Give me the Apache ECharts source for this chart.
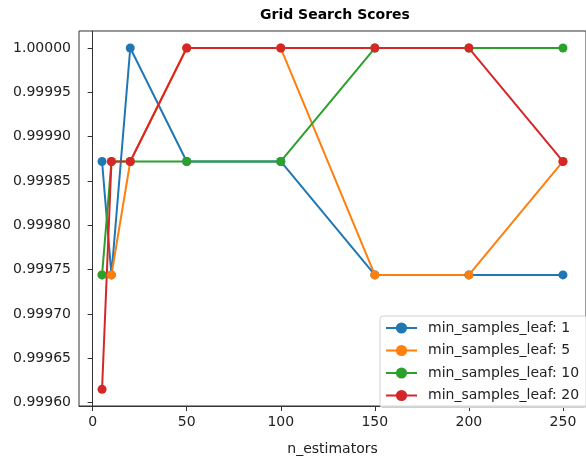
<!DOCTYPE html>
<html>
<head>
<meta charset="utf-8">
<script src="https://cdn.jsdelivr.net/npm/echarts@6/dist/echarts.min.js"></script>
<style>
  html, body { margin: 0; padding: 0; background: #fff; }
  #chart { width: 586px; height: 461px; }
</style>
</head>
<body>
<div id="chart"></div>
<script>
// n_estimators tried in the grid search
const nEstimators = [5, 10, 20, 50, 100, 150, 200, 250]

// mean scores per min_samples_leaf
const leaf1 = [0.999872, 0.999744, 1.0, 0.999872, 0.999872, 0.999744, 0.999744, 0.999744]
const leaf5 = [0.999744, 0.999744, 0.999872, 1.0, 1.0, 0.999744, 0.999744, 0.999872]
const leaf10 = [0.999744, 0.999872, 0.999872, 0.999872, 0.999872, 1.0, 1.0, 1.0]
const leaf20 = [0.999615, 0.999872, 0.999872, 1.0, 1.0, 1.0, 1.0, 0.999872]

const xTicks = [0, 50, 100, 150, 200, 250]
const yTicks = [0.9996, 0.99965, 0.9997, 0.99975, 0.9998, 0.99985, 0.9999, 0.99995, 1.0]

const colors = ['#1f77b4', '#ff7f0e', '#2ca02c', '#d62728']
const font = 'DejaVu Sans'

const makeSeries = (name, values, color) => ({
  name: name,
  type: 'line',
  data: nEstimators.map((x, i) => [x, values[i]]),
  symbol: 'circle',
  symbolSize: 9,
  lineStyle: { width: 2, color: color },
  itemStyle: { color: color },
  emphasis: { disabled: true },
})

const chart = echarts.init(document.getElementById('chart'))

chart.setOption({
  animation: false,
  textStyle: { fontFamily: font },
  title: {
    text: 'Grid Search Scores',
    left: 260,
    top: 8,
    padding: 0,
    textStyle: { fontFamily: font, fontSize: 14, fontWeight: 'bold', color: '#000' },
  },
  legend: {
    orient: 'vertical',
    left: 380,
    top: 316,
    padding: [5, 8, 5, 5],
    itemWidth: 31,
    itemHeight: 14,
    itemGap: 8.5,
    backgroundColor: 'rgba(255,255,255,0.8)',
    borderColor: '#d0d0d0',
    borderWidth: 1,
    borderRadius: 3,
    textStyle: { fontFamily: font, fontSize: 14, color: '#222', padding: [0, 0, 0, 6] },
  },
  grid: {
    left: 79,
    top: 31,
    width: 516.5,
    height: 384,
    show: true,
    borderColor: '#333',
    borderWidth: 1,
  },
  xAxis: {
    type: 'value',
    min: -7.25,
    max: 262.25,
    name: 'n_estimators',
    nameLocation: 'middle',
    nameGap: 36,
    nameTextStyle: { fontFamily: font, fontSize: 14, color: '#222' },
    axisLine: { lineStyle: { color: '#333' } },
    axisTick: { show: true, length: 5, customValues: xTicks, lineStyle: { color: '#333' } },
    axisLabel: { fontSize: 14, color: '#222', margin: 9, customValues: xTicks },
    splitLine: { show: false },
  },
  yAxis: {
    type: 'value',
    min: 0.99959615,
    max: 1.0000192,
    axisLine: { show: true, lineStyle: { color: '#333' } },
    axisTick: { show: true, length: 5, customValues: yTicks, lineStyle: { color: '#333' } },
    axisLabel: {
      fontSize: 14,
      color: '#222',
      margin: 8,
      customValues: yTicks,
      formatter: (v) => v.toFixed(5),
    },
    splitLine: { show: false },
  },
  series: [
    makeSeries('min_samples_leaf: 1', leaf1, colors[0]),
    makeSeries('min_samples_leaf: 5', leaf5, colors[1]),
    makeSeries('min_samples_leaf: 10', leaf10, colors[2]),
    makeSeries('min_samples_leaf: 20', leaf20, colors[3]),
  ],
})
</script>
</body>
</html>
